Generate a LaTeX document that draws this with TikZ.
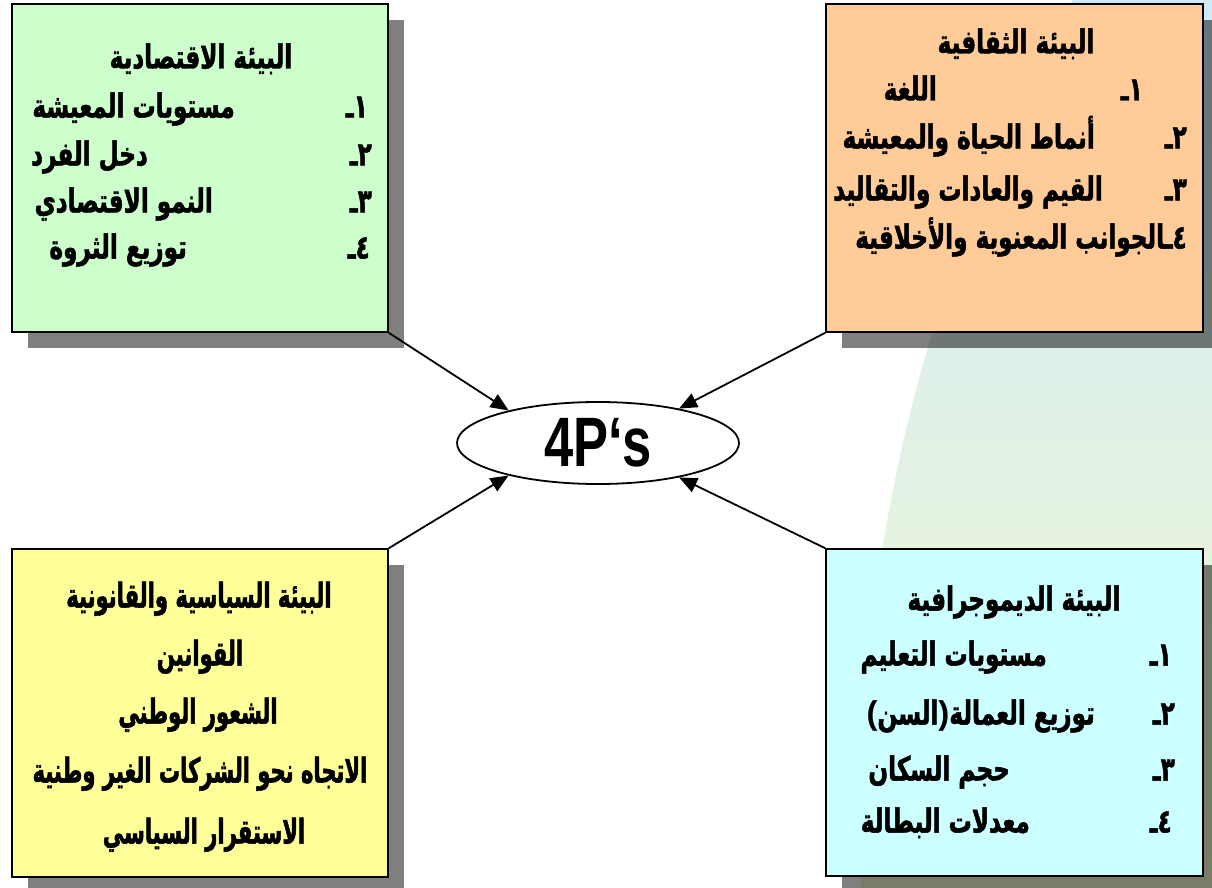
\documentclass[tikz,border=0pt]{standalone}
\usepackage{fontspec}
\setmainfont{Liberation Sans}
\newfontfamily\arabicfont[Script=Arabic,FakeStretch=0.70,FakeBold=1.5]{DejaVu Sans}
\newfontfamily\arabicnarrow[Script=Arabic,FakeStretch=0.62,FakeBold=1.5]{DejaVu Sans}
\newfontfamily\latinfont{Liberation Sans}
\newfontfamily\hubfont[FakeStretch=0.75]{Liberation Sans}
\TeXXeTstate=1
\usetikzlibrary{arrows.meta,shapes.geometric,shadows}
\definecolor{boxgreen}{HTML}{CCFFCC}
\definecolor{boxorange}{HTML}{FFCC99}
\definecolor{boxyellow}{HTML}{FFFF99}
\definecolor{boxcyan}{HTML}{CCFFFF}
\definecolor{bgtop}{HTML}{D0EAF8}
\definecolor{bgmid}{HTML}{E6F4E2}
\definecolor{bgbot}{HTML}{F4F9D2}
\tikzset{
  panel/.style={draw=black, line width=1.6pt, rectangle, inner sep=0pt,
    minimum width=376pt, minimum height=328pt,
    drop shadow={shadow xshift=16pt, shadow yshift=-16pt, fill=black, opacity=0.5}},
  artext/.style={font=\arabicfont\bfseries\fontsize{33}{36}\selectfont, inner sep=0pt,
    text height=0.9em, text depth=0pt},
  arbig/.style={artext, font=\arabicnarrow\bfseries\fontsize{34}{38}\selectfont},
  link/.style={line width=1.8pt, -{Triangle[length=18pt,width=15pt]}},
  hub/.style={ellipse, draw=black, line width=1.8pt, fill=white, minimum width=282pt,
    minimum height=82pt, inner sep=0pt, font=\hubfont\bfseries\fontsize{70}{70}\selectfont}
}
\begin{document}
\begin{tikzpicture}[x=1pt,y=-1pt]
\useasboundingbox (0,0) rectangle (1212,888);
\begin{scope}
  \clip (0,0) rectangle (1212,888);
  \begin{scope}
    \clip (2563,825) circle (1703pt);
    \shade[top color=bgtop, middle color=bgmid, bottom color=bgbot] (0,0) rectangle (1212,888);
  \end{scope}
  % panels
  \node[panel, fill=boxgreen]  (eco) at (200,168) {};
  \node[panel, fill=boxorange, minimum width=377pt] (cul) at (1014.5,168) {};
  \node[panel, fill=boxyellow] (pol) at (200,713) {};
  \node[panel, fill=boxcyan, minimum width=377pt, minimum height=327pt] (dem) at (1014.5,712.5) {};
\end{scope}

% hub
\node[hub] (hubnode) at (598,443) {4P‘s};

% connectors
\draw[link] (eco.south east) -- (hubnode.160);
\draw[link] (cul.south west) -- (hubnode.23);
\draw[link] (pol.north east) -- (hubnode.200);
\draw[link] (dem.north west) -- (hubnode.-23);

\begin{scope}[yshift=-6pt]
% economic environment
\node[artext] (ecoT) at (201,58) {\beginR البيئة الاقتصادية\endR};
\node[artext, anchor=east] (ecoN1) at (368,107) {\beginR ١ـ\endR};
\node[artext, anchor=east] (ecoI1) at (235,107) {\beginR مستويات المعيشة\endR};
\node[artext, anchor=east] (ecoN2) at (372,155) {\beginR ٢ـ\endR};
\node[artext, anchor=east] (ecoI2) at (148,155) {\beginR دخل الفرد\endR};
\node[artext, anchor=east] (ecoN3) at (372,202) {\beginR ٣ـ\endR};
\node[artext, anchor=east] (ecoI3) at (213,202) {\beginR النمو الاقتصادي\endR};
\node[artext, anchor=east] (ecoN4) at (370,248) {\beginR ٤ـ\endR};
\node[artext, anchor=east] (ecoI4) at (187,248) {\beginR توزيع الثروة\endR};

% cultural environment
\node[artext] (culT) at (1016,43) {\beginR البيئة الثقافية\endR};
\node[artext, anchor=east] (culN1) at (1143,90) {\beginR ١ـ\endR};
\node[artext, anchor=east] (culI1) at (937,90) {\beginR اللغة\endR};
\node[artext, anchor=east] (culN2) at (1187,138) {\beginR ٢ـ\endR};
\node[artext, anchor=east] (culI2) at (1095,138) {\beginR أنماط الحياة والمعيشة\endR};
\node[artext, anchor=east] (culN3) at (1187,190) {\beginR ٣ـ\endR};
\node[artext, anchor=east] (culI3) at (1103,190) {\beginR القيم والعادات والتقاليد\endR};
\node[artext, anchor=east] (culI4) at (1187,238) {\beginR ٤ـالجوانب المعنوية والأخلاقية\endR};

% political and legal environment
\node[arbig] (polT) at (199,597) {\beginR البيئة السياسية والقانونية\endR};
\node[arbig] (pol1) at (200,655) {\beginR القوانين\endR};
\node[arbig] (pol2) at (198,713) {\beginR الشعور الوطني\endR};
\node[arbig] (pol3) at (200,772) {\beginR الاتجاه نحو الشركات الغير وطنية\endR};
\node[arbig] (pol4) at (204,833) {\beginR الاستقرار السياسي\endR};

% demographic environment
\node[artext] (demT) at (1014,600) {\beginR البيئة الديموجرافية\endR};
\node[artext, anchor=east] (demN1) at (1172,655) {\beginR ١ـ\endR};
\node[artext, anchor=east] (demI1) at (1047,655) {\beginR مستويات التعليم\endR};
\node[artext, anchor=east] (demN2) at (1175,714) {\beginR ٢ـ\endR};
\node[artext, anchor=east] (demI2) at (1095,714) {\beginR توزيع العمالة{\latinfont\bfseries)}السن{\latinfont\bfseries(}\endR};
\node[artext, anchor=east] (demN3) at (1175,770) {\beginR ٣ـ\endR};
\node[artext, anchor=east] (demI3) at (1010,770) {\beginR حجم السكان\endR};
\node[artext, anchor=east] (demN4) at (1172,822) {\beginR ٤ـ\endR};
\node[artext, anchor=east] (demI4) at (1030,822) {\beginR معدلات البطالة\endR};
\end{scope}
\end{tikzpicture}
\end{document}
